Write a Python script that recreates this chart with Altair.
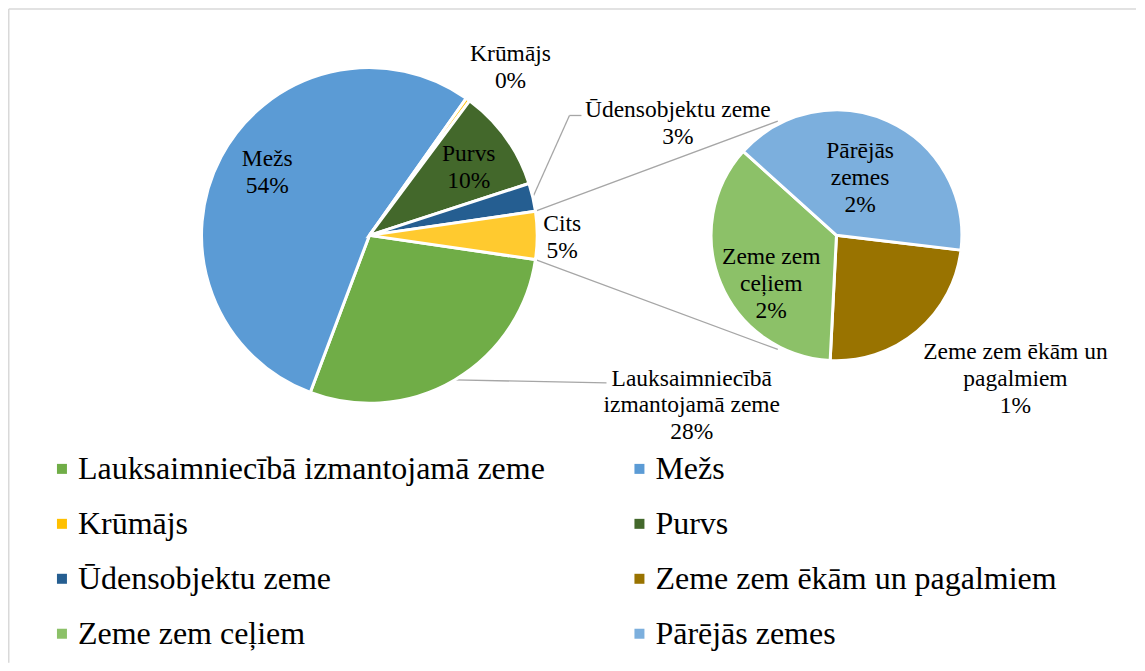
import math
import altair as alt
import pandas as pd

# ---------------- data ----------------
main_categories = ["Lauksaimniecībā izmantojamā zeme", "Mežs", "Krūmājs", "Purvs", "Ūdensobjektu zeme"]
main_values = [28.4, 54.0, 0.4, 9.8, 2.7]
main_labels = ["Lauksaimniecībā\nizmantojamā zeme", "Mežs", "Krūmājs", "Purvs", "Ūdensobjektu zeme"]

other_name = "Cits"

second_categories = ["Zeme zem ēkām un pagalmiem", "Zeme zem ceļiem", "Pārējās zemes"]
second_values = [1.1, 1.65, 1.85]
second_labels = ["Zeme zem ēkām un\npagalmiem", "Zeme zem\nceļiem", "Pārējās\nzemes"]

# legend fills column by column: two columns of four
legend_order = ["Lauksaimniecībā izmantojamā zeme", "Krūmājs", "Ūdensobjektu zeme", "Zeme zem ceļiem",
                "Mežs", "Purvs", "Zeme zem ēkām un pagalmiem", "Pārējās zemes"]
legend_colors = ["#70AD47", "#FFC000", "#255E91", "#8CC168",
                 "#5B9BD5", "#43682B", "#997300", "#7CAFDD"]
other_color = "#FFCA2F"

# ---------------- tables ----------------
cits_value = sum(second_values)
main_df = pd.DataFrame({
    "cat": main_categories + [other_name],
    "value": main_values + [cits_value],
    "lbl": main_labels + [other_name],
    "idx": list(range(len(main_categories) + 1)),
})
second_df = pd.DataFrame({
    "cat": second_categories,
    "value": second_values,
    "lbl": second_labels,
    "idx": list(range(len(second_categories))),
})
grand_total = float(main_df["value"].sum())
second_total = float(second_df["value"].sum())

# ---------------- layout ----------------
W, H = 1129, 655
C1 = (361.7, 227.3)
R1 = 168
C2 = (829.2, 227.2)
R2 = 125.5
cits_deg = cits_value / grand_total * 360
START1 = 90 + cits_deg / 2
START2 = 96.8
FONT = "Liberation Serif, Times New Roman, serif"
LINE_COLOR = "#A6A6A6"
LINE_H = 27

# label placement: radius from centre, then dx/dy (to the centre of the text block)
main_place = {
    "Lauksaimniecībā izmantojamā zeme": (200, 221, -2),
    "Mežs": (118, 2, -8),
    "Krūmājs": (210, 18, 2),
    "Purvs": (120, 2, 2),
    "Ūdensobjektu zeme": (200, 114, -66),
    "Cits": (193, 0, 2),
}
second_place = {
    "Zeme zem ēkām un pagalmiem": (160, 76, 22),
    "Zeme zem ceļiem": (75, 4, 20),
    "Pārējās zemes": (62, -2, -1),
}
label_lines = dict(zip(list(main_df["cat"]) + list(second_df["cat"]),
                       [s.count("\n") + 2 for s in list(main_df["lbl"]) + list(second_df["lbl"])]))


def polar(c, r, deg):
    a = math.radians(deg)
    return (c[0] + r * math.sin(a), c[1] - r * math.cos(a))


def mids(values, total, start):
    out, acc = [], 0.0
    for v in values:
        out.append(start + (acc + v / 2) / total * 360)
        acc += v
    return out


main_mid = dict(zip(main_df["cat"], mids(list(main_df["value"]), grand_total, START1)))


def label_pos(cat):
    r, dx, dy = main_place[cat]
    x, y = polar(C1, r, main_mid[cat])
    return (x + dx, y + dy)


segs = []
# Ūdensobjektu zeme leader
u = "Ūdensobjektu zeme"
p0 = polar(C1, R1, main_mid[u])
lp = label_pos(u)
elbow = (lp[0] - 108.5, lp[1] - 8.5)
end = (lp[0] - 96.5, lp[1] - 8.5)
segs.append((p0, elbow))
segs.append((elbow, end))
# Lauksaimniecība leader
l = "Lauksaimniecībā izmantojamā zeme"
p0 = polar(C1, R1, main_mid[l])
lp = label_pos(l)
segs.append((p0, (lp[0] - 85.3, lp[1] - 22.7)))
# connectors between the pies
segs.append((polar(C1, R1, START1 - cits_deg), polar(C2, R2 + 3, 332.8)))
segs.append((polar(C1, R1, START1), polar(C2, R2 + 3, 207.2)))
seg_df = pd.DataFrame({
    "x": [s[0][0] for s in segs], "y": [s[0][1] for s in segs],
    "x2": [s[1][0] for s in segs], "y2": [s[1][1] for s in segs],
})

color_scale = alt.Scale(domain=legend_order, range=legend_colors)
legend = alt.Legend(
    title=None, orient="none", legendX=38, legendY=445, columns=2,
    symbolType="square", symbolSize=100, symbolStrokeWidth=0,
    labelFont=FONT, labelFontSize=32, labelColor="black", labelLimit=1000,
    labelOffset=0, rowPadding=23, columnPadding=78,
)


def theta_scale(total, start):
    s = math.radians(start)
    return alt.Scale(domain=[0, total], range=[s, s + 2 * math.pi])


def stacked(df):
    return (alt.Chart(df)
            .transform_window(cum="sum(value)", frame=[None, 0], sort=[alt.SortField("idx")])
            .transform_calculate(cum0="datum.cum - datum.value",
                                 mid="datum.cum - datum.value / 2"))


main_arcs = stacked(main_df).mark_arc(radius=R1, stroke="white", strokeWidth=3).encode(
    theta=alt.Theta("cum0:Q", scale=theta_scale(grand_total, START1)),
    theta2="cum:Q",
    x=alt.value(C1[0]), y=alt.value(C1[1]),
    color=alt.condition(f"datum.cat === '{other_name}'", alt.value(other_color),
                        alt.Color("cat:N", scale=color_scale, legend=legend)),
)

second_arcs = stacked(second_df).mark_arc(radius=R2, stroke="white", strokeWidth=3).encode(
    theta=alt.Theta("cum0:Q", scale=theta_scale(second_total, START2)),
    theta2="cum:Q",
    x=alt.value(C2[0]), y=alt.value(C2[1]),
    color=alt.Color("cat:N", scale=color_scale, legend=legend),
)

text_expr = f"datum.lbl + '\\n' + format(datum.value / {grand_total}, '.0%')"


def label_layer(df, cat, place, total, start, c):
    r, dx, dy = place
    # first line sits at the anchor: lift the block so that its centre is there
    dy_block = dy - (label_lines[cat] - 1) * LINE_H / 2
    return (stacked(df)
            .transform_filter(alt.datum.cat == cat)
            .transform_calculate(txt=text_expr)
            .mark_text(radius=r, dx=dx, dy=dy_block, font=FONT, fontSize=23.5, lineHeight=LINE_H,
                       lineBreak="\n", align="center", baseline="middle", color="black")
            .encode(theta=alt.Theta("mid:Q", scale=theta_scale(total, start)),
                    x=alt.value(c[0]), y=alt.value(c[1]),
                    text="txt:N"))


labels = [label_layer(main_df, c, main_place[c], grand_total, START1, C1) for c in main_df["cat"]]
labels += [label_layer(second_df, c, second_place[c], second_total, START2, C2) for c in second_df["cat"]]

lines = alt.Chart(seg_df).mark_rule(color=LINE_COLOR, strokeWidth=1.3).encode(
    x=alt.X("x:Q", scale=None, axis=None), y=alt.Y("y:Q", scale=None, axis=None),
    x2="x2:Q", y2="y2:Q",
)

frame_df = pd.DataFrame({"x": [0.75, 0.75], "y": [0.75, 0.75], "x2": [0.75, W], "y2": [H, 0.75]})
frame = alt.Chart(frame_df).mark_rule(color="#D9D9D9", strokeWidth=1.5).encode(
    x=alt.X("x:Q", scale=None, axis=None), y=alt.Y("y:Q", scale=None, axis=None),
    x2="x2:Q", y2="y2:Q",
)

chart = (alt.layer(frame, lines, main_arcs, second_arcs, *labels)
         .resolve_scale(theta="independent")
         .properties(width=W, height=H, padding={"left": 0, "top": 0, "right": 0, "bottom": 0})
         .configure_view(stroke=None))

chart.save("out.html", embed_options={"renderer": "svg", "actions": False})
